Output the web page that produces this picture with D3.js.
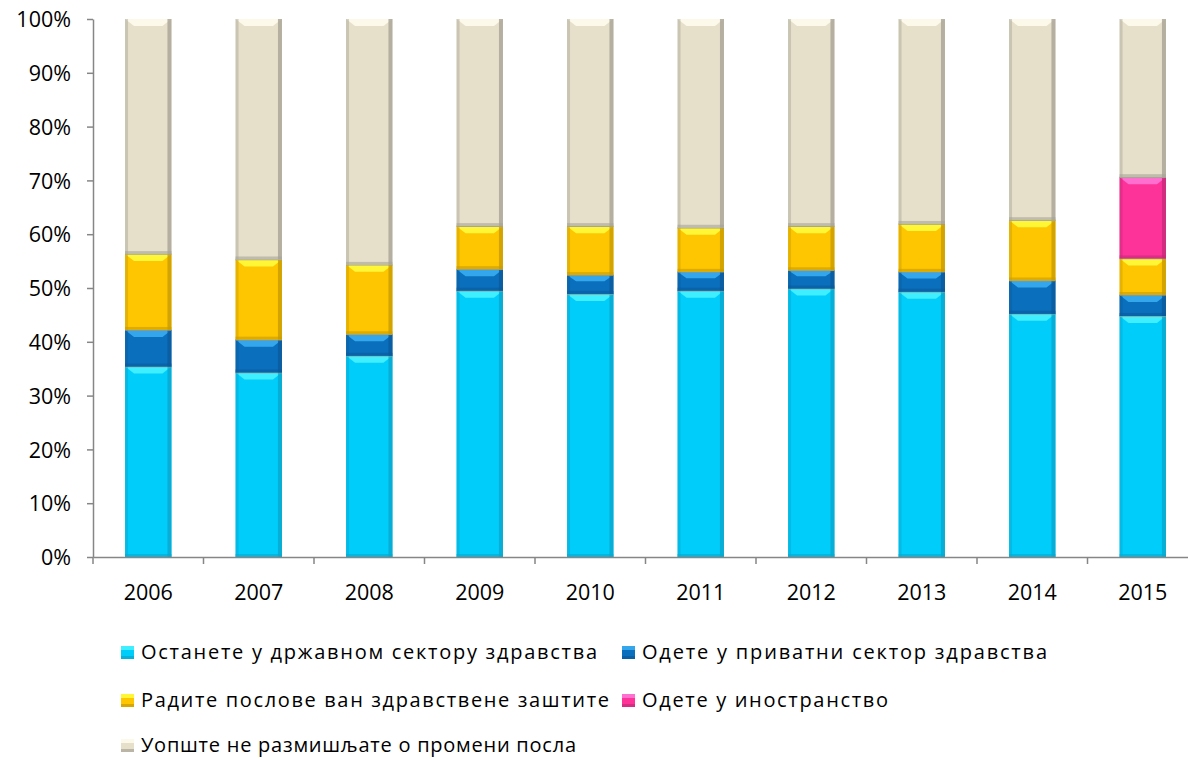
<!DOCTYPE html>
<html><head><meta charset="utf-8">
<script src="https://cdn.jsdelivr.net/npm/d3@7"></script>
<style>body{margin:0;background:#fff}svg{display:block}</style>
</head><body><svg id="c" width="1188" height="760"></svg>
<script>
const years = ["2006","2007","2008","2009","2010","2011","2012","2013","2014","2015"];
const seriesNames = [
  "Останете у државном сектору здравства",
  "Одете у приватни сектор здравства",
  "Радите послове ван здравствене заштите",
  "Одете у иностранство",
  "Уопште не размишљате о промени посла"
];
const stateSector   = [35.4, 34.3, 37.4, 49.5, 48.9, 49.5, 49.9, 49.3, 45.2, 44.8];
const privateSector = [6.8, 6.1, 4.0, 4.0, 3.5, 3.5, 3.4, 3.7, 6.2, 3.9];
const outsideHealth = [14.1, 14.9, 12.9, 8.0, 9.1, 8.2, 8.2, 8.9, 11.2, 6.8];
const abroad        = [0, 0, 0, 0, 0, 0, 0, 0, 0, 15.1];
const noChange      = [43.7, 44.7, 45.7, 38.5, 38.5, 38.8, 38.5, 38.1, 37.4, 29.4];
const yTicks = [0,10,20,30,40,50,60,70,80,90,100];

const colors = ["#00cdfa","#0a6fbd","#fec600","#fd3399","#e6e0cb"];
const light  = ["#4af3ff","#3cb2f5","#ffff40","#ff7ad8","#fffdf0"];
const dark   = ["#0aa6cc","#0a5a9a","#c89b00","#c62a78","#a7a395"];

const svg = d3.select("#c");
const x0 = 93, x1 = 1198, yTop = 19, yBot = 557;
const x = d3.scaleBand().domain(years).range([x0, x1]).paddingInner(0.58).paddingOuter(0.29);
const y = d3.scaleLinear().domain([0,100]).range([yBot, yTop]);

const data = years.map((yr,i)=>({year:yr, s0:stateSector[i], s1:privateSector[i], s2:outsideHealth[i], s3:abroad[i], s4:noChange[i]}));
const stack = d3.stack().keys(["s0","s1","s2","s3","s4"]).order(d3.stackOrderNone).offset(d3.stackOffsetNone)(data);

const font = "'Open Sans', 'DejaVu Sans', sans-serif";

// bars
stack.forEach((layer, k) => {
  layer.forEach(d => {
    const v = d[1]-d[0];
    if (v <= 0) return;
    const bx = x(d.data.year), bw = x.bandwidth();
    const ty = y(d[1]), by = y(d[0]), h = by - ty;
    const g = svg.append("g");
    g.append("rect").attr("x",bx).attr("y",ty).attr("width",bw).attr("height",h).attr("fill",colors[k]);
    const bev = Math.min(7, h/3);
    g.append("path").attr("d",`M${bx},${ty}L${bx+bw},${ty}L${bx+bw-9},${ty+bev}L${bx+9},${ty+bev}Z`).attr("fill",light[k]).attr("opacity",0.85);
    g.append("rect").attr("x",bx).attr("y",ty).attr("width",3).attr("height",h).attr("fill",dark[k]).attr("opacity",0.45);
    g.append("rect").attr("x",bx+bw-4).attr("y",ty).attr("width",4).attr("height",h).attr("fill",dark[k]).attr("opacity",0.8);
    g.append("rect").attr("x",bx).attr("y",by-3).attr("width",bw).attr("height",3).attr("fill",dark[k]).attr("opacity",0.6);
    g.append("line").attr("x1",bx).attr("x2",bx+bw).attr("y1",ty).attr("y2",ty).attr("stroke","#9a978c").attr("stroke-width",1.5).attr("opacity", k===4?0:0.9);
  });
});

// y axis
const yAxis = d3.axisLeft(y).tickValues(yTicks).tickFormat(d=>d+"%").tickSize(6).tickSizeOuter(0);
const ga = svg.append("g").attr("transform",`translate(${x0},0)`).call(yAxis);
ga.select(".domain").attr("stroke","#868686").attr("stroke-width",1.5);
ga.selectAll(".tick line").attr("stroke","#868686").attr("stroke-width",1.5);
ga.selectAll(".tick text").attr("font-family",font).attr("font-size",21.5).attr("fill","#000").attr("x",-22).attr("dy","0.36em");

// x axis
const xAxis = d3.axisBottom(x).tickSize(0).tickSizeOuter(0);
const gx = svg.append("g").attr("transform",`translate(0,${yBot})`).call(xAxis);
gx.select(".domain").attr("stroke","#868686").attr("stroke-width",1.5);
gx.selectAll(".tick text").attr("font-family",font).attr("font-size",21.5).attr("fill","#000").attr("y",28).attr("dy","0.71em");
// category separator ticks
const step = x.step();
const sep = d3.range(0,10).map(i => x0 + i*step);
svg.append("g").selectAll("line").data(sep).join("line")
  .attr("x1",d=>d).attr("x2",d=>d).attr("y1",yBot).attr("y2",yBot+7)
  .attr("stroke","#868686").attr("stroke-width",1.5);

// legend
const legendItems = [
  {k:0, x:121, y:652, w:456},
  {k:1, x:622, y:652, w:405},
  {k:2, x:121, y:700, w:468},
  {k:3, x:622, y:700, w:246},
  {k:4, x:121, y:745, w:435}
];
const lg = svg.append("g");
legendItems.forEach(it => {
  const g = lg.append("g");
  g.append("rect").attr("x",it.x).attr("y",it.y-6).attr("width",13).attr("height",13).attr("fill",colors[it.k]);
  g.append("rect").attr("x",it.x).attr("y",it.y-6).attr("width",13).attr("height",4).attr("fill",light[it.k]).attr("opacity",0.85);
  g.append("rect").attr("x",it.x).attr("y",it.y+4).attr("width",13).attr("height",3).attr("fill",dark[it.k]).attr("opacity",0.7);
  g.append("text").attr("x",it.x+20).attr("y",it.y).attr("dy","0.35em")
    .attr("font-family",font).attr("font-size",20).attr("fill","#000")
    .attr("textLength",it.w).attr("lengthAdjust","spacing")
    .text(seriesNames[it.k]);
});
</script></body></html>
